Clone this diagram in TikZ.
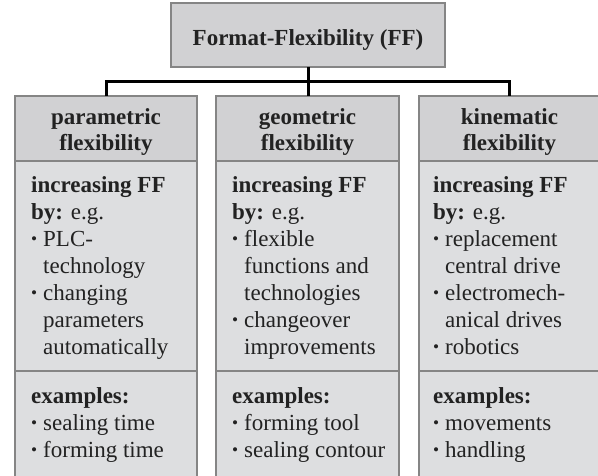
\documentclass[tikz,border=0pt]{standalone}
\usepackage{fontspec}
\setmainfont{Liberation Serif}
\usepackage{graphicx}
\definecolor{hdrgray}{HTML}{D1D1D3}
\definecolor{bodygray}{HTML}{DDDEE0}
\definecolor{edgegray}{HTML}{858585}
\definecolor{inkgray}{HTML}{222222}
\newcommand\bul{\makebox[12pt][l]{\raisebox{0.07em}{\scalebox{0.75}{\textbullet}}}}
\newcommand\cont{\hspace*{12pt}}
\tikzset{
  boxbase/.style={draw=edgegray, line width=1.6pt, inner sep=0pt, outer sep=0pt, rectangle, text=inkgray},
  hdrbox/.style={boxbase, fill=hdrgray},
  bodybox/.style={boxbase, fill=bodygray},
  hdrtxt/.style={inner sep=0pt, align=center, text=inkgray, font=\fontsize{23}{26}\selectfont\bfseries},
  txt/.style={anchor=north west, inner sep=0pt, align=left, text=inkgray, font=\fontsize{23}{27}\selectfont},
  link/.style={draw=black, line width=3pt}
}
\begin{document}
\begin{tikzpicture}[x=1pt,y=-1pt]
\useasboundingbox[fill=white] (0,0) rectangle (598,476);
% top
\node[hdrbox, minimum width=274pt, minimum height=64pt] (ff) at (308,35) {};
\node[hdrtxt] (fft) at (308,40) {Format-Flexibility (FF)};
% bodies
\node[bodybox, minimum width=182pt, minimum height=210pt] (b1) at (106,266) {};
\node[bodybox, minimum width=183pt, minimum height=210pt] (b2) at (307.5,266) {};
\node[bodybox, minimum width=181pt, minimum height=210pt] (b3) at (509.5,266) {};
\node[bodybox, minimum width=182pt, minimum height=109pt] (e1) at (106,425.5) {};
\node[bodybox, minimum width=183pt, minimum height=109pt] (e2) at (307.5,425.5) {};
\node[bodybox, minimum width=181pt, minimum height=109pt] (e3) at (509.5,425.5) {};
% headers
\node[hdrbox, minimum width=182pt, minimum height=65pt] (h1) at (106,128.5) {};
\node[hdrbox, minimum width=183pt, minimum height=65pt] (h2) at (307.5,128.5) {};
\node[hdrbox, minimum width=181pt, minimum height=65pt] (h3) at (509.5,128.5) {};
\node[hdrtxt] (ht1) at (106,132) {parametric\\flexibility};
\node[hdrtxt] (ht2) at (307.5,132) {geometric\\flexibility};
\node[hdrtxt] (ht3) at (509.5,132) {kinematic\\flexibility};
% connectors
\coordinate (bus) at (306,82);
\draw[link] (ff.south) -- (ff.south |- h2.north);
\draw[link] (h1.north) -- (h1.north |- bus) -- (h3.north |- bus) -- (h3.north);
% body texts
\node[txt] (t1) at (31,173) {\strut\textbf{increasing FF}\\\textbf{by:} e.g.\\\bul PLC-\\\cont technology\\\bul changing\\\cont parameters\\\cont automatically};
\node[txt] (t2) at (232,173) {\strut\textbf{increasing FF}\\\textbf{by:} e.g.\\\bul flexible\\\cont functions and\\\cont technologies\\\bul changeover\\\cont improvements};
\node[txt] (t3) at (433,173) {\strut\textbf{increasing FF}\\\textbf{by:} e.g.\\\bul replacement\\\cont central drive\\\bul electromech-\\\cont anical drives\\\bul robotics};
\node[txt] (x1) at (31,384) {\strut\textbf{examples:}\\\bul sealing time\\\bul forming time};
\node[txt] (x2) at (232,384) {\strut\textbf{examples:}\\\bul forming tool\\\bul sealing contour};
\node[txt] (x3) at (433,384) {\strut\textbf{examples:}\\\bul movements\\\bul handling};
\end{tikzpicture}
\end{document}
